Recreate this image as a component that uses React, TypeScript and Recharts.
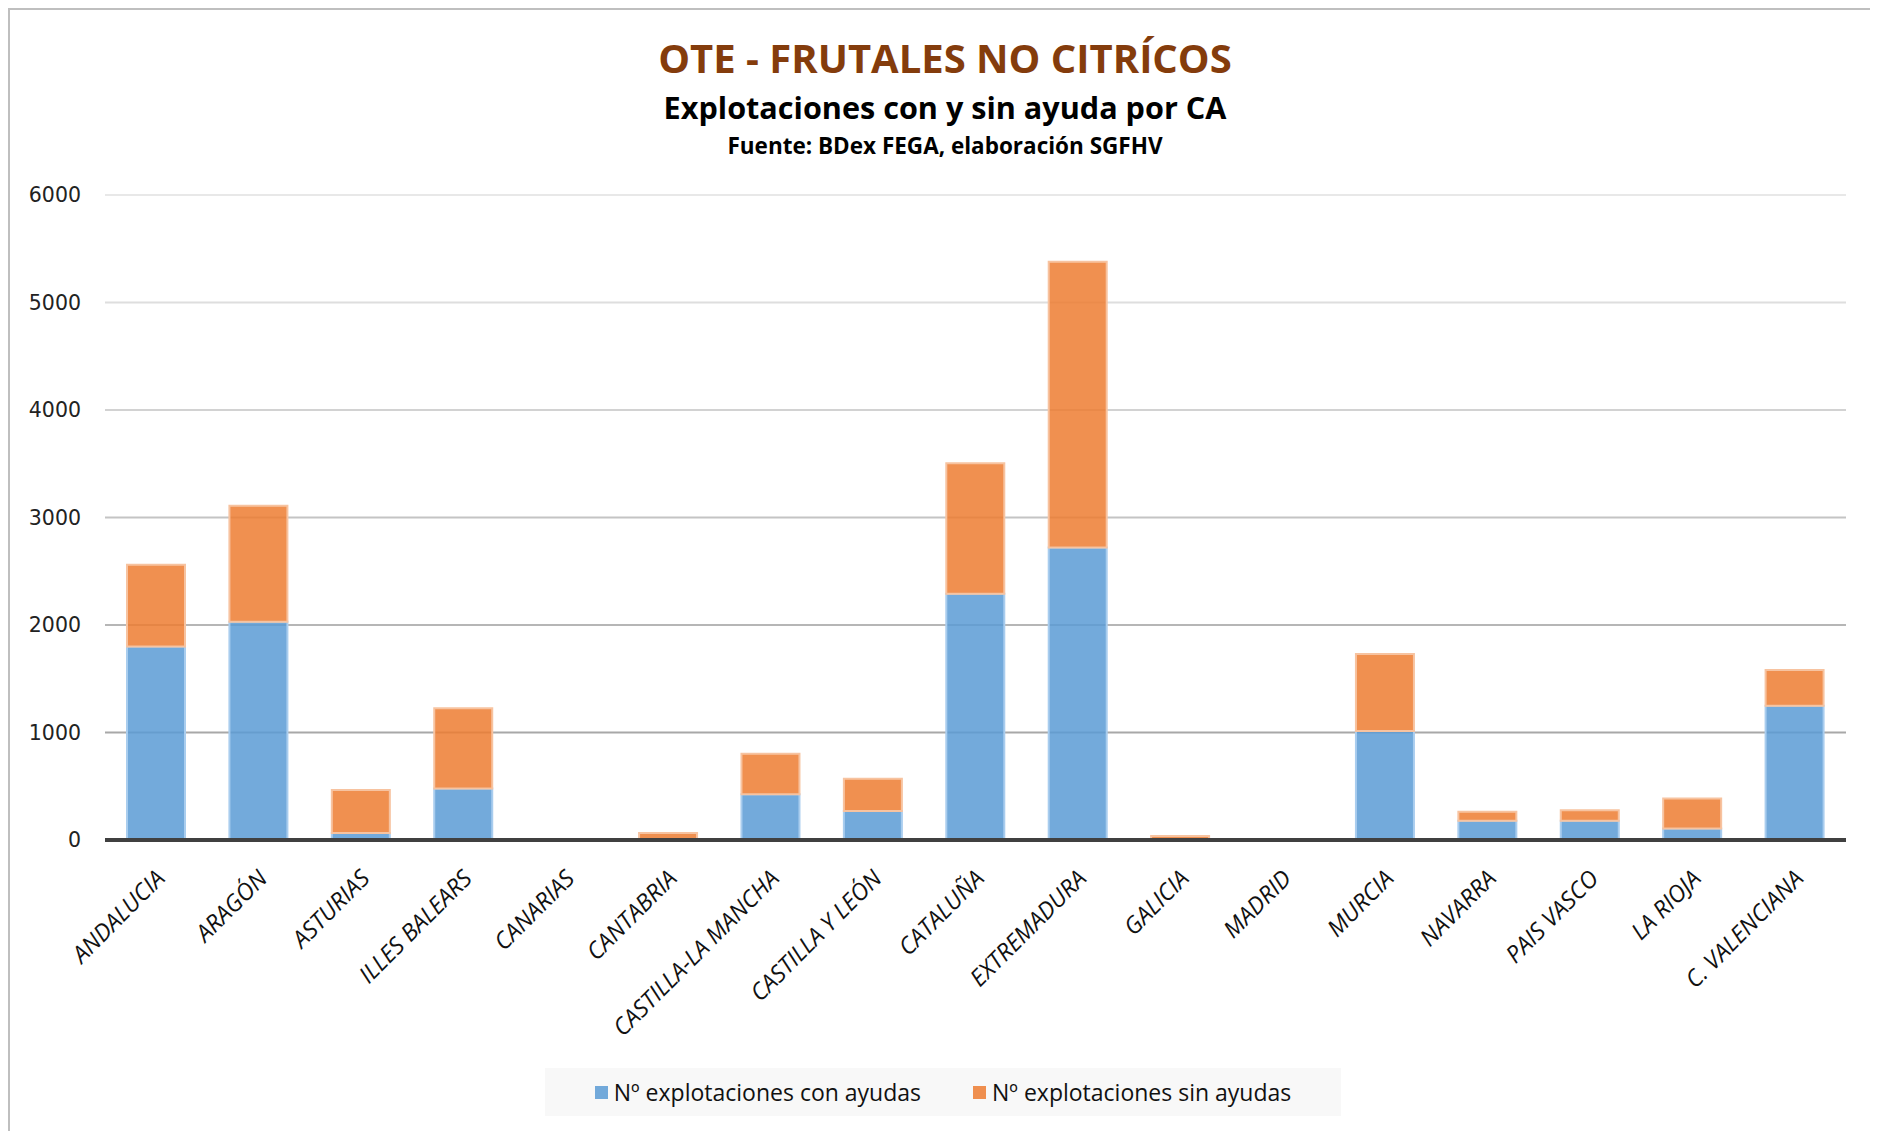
import {
  Bar,
  BarChart,
  CartesianGrid,
  Legend,
  XAxis,
  YAxis,
} from "recharts";

const categories = [
  "ANDALUCIA",
  "ARAGÓN",
  "ASTURIAS",
  "ILLES BALEARS",
  "CANARIAS",
  "CANTABRIA",
  "CASTILLA-LA MANCHA",
  "CASTILLA Y LEÓN",
  "CATALUÑA",
  "EXTREMADURA",
  "GALICIA",
  "MADRID",
  "MURCIA",
  "NAVARRA",
  "PAIS VASCO",
  "LA RIOJA",
  "C. VALENCIANA",
];

const conAyudas = [1800, 2030, 65, 480, 3, 5, 425, 270, 2290, 2720, 10, 2, 1015, 180, 180, 108, 1250];
const sinAyudas = [760, 1080, 400, 745, 4, 60, 378, 300, 1215, 2660, 28, 3, 715, 82, 97, 277, 332];

const yTicks = [0, 1000, 2000, 3000, 4000, 5000, 6000];

const seriesNames = ["Nº explotaciones con ayudas", "Nº explotaciones sin ayudas"];

const data = categories.map((ca, i) => ({
  ca,
  con: conAyudas[i],
  sin: sinAyudas[i],
}));

const BLUE = "#5B9BD5";
const ORANGE = "#ED7D31";
const FONT = "'Open Sans', sans-serif";

// grid gets darker towards the bottom, like the original
const gridGrays = ["#a8a8a8", "#a8a8a8", "#b6b6b6", "#c4c4c4", "#d2d2d2", "#dedede", "#e8e8e8"];

function GridLine(p: any) {
  const idx = Math.round((830 - p.y1) / 107.5);
  const stroke = gridGrays[Math.max(0, Math.min(gridGrays.length - 1, idx))];
  return <line x1={p.x1} y1={p.y1} x2={p.x2} y2={p.y2} stroke={stroke} strokeWidth={2} />;
}

function XTick({ x, y, payload }: any) {
  return (
    <g transform={`translate(${x + 10},${y + 32})`}>
      <text
        transform="rotate(-45)"
        textAnchor="end"
        fontFamily={FONT}
        fontStyle="italic"
        fontSize={23.5}
        fill="#111"
      >
        {payload.value}
      </text>
    </g>
  );
}

function LegendBox() {
  const item = (color: string, label: string) => (
    <div style={{ display: "flex", alignItems: "center" }}>
      <span
        style={{
          width: 13,
          height: 13,
          background: color,
          opacity: 0.85,
          marginRight: 6,
        }}
      />
      <span>{label}</span>
    </div>
  );
  return (
    <div
      style={{
        width: 796,
        height: 48,
        background: "#f8f8f8",
        display: "flex",
        alignItems: "center",
        justifyContent: "center",
        gap: 52,
        fontFamily: FONT,
        fontSize: 23,
        color: "#111",
      }}
    >
      {item(BLUE, seriesNames[0])}
      {item(ORANGE, seriesNames[1])}
    </div>
  );
}

const titleBase = {
  position: "absolute" as const,
  left: 10,
  right: 0,
  textAlign: "center" as const,
  fontFamily: FONT,
  fontWeight: 700,
};

export default function App() {
  const W = 1860;
  const H = 1121;
  return (
    <div
      style={{
        position: "relative",
        width: W,
        height: H,
        border: "2px solid #bfbfbf",
        background: "#fff",
      }}
    >
      <div style={{ ...titleBase, top: 20, fontSize: 40, color: "#843C0C" }}>
        OTE - FRUTALES NO CITRÍCOS
      </div>
      <div style={{ ...titleBase, top: 76, fontSize: 30.6, color: "#000" }}>
        Explotaciones con y sin ayuda por CA
      </div>
      <div style={{ ...titleBase, top: 120, fontSize: 22.5, color: "#000" }}>
        Fuente: BDex FEGA, elaboración SGFHV
      </div>
      <BarChart
        width={W}
        height={H}
        data={data}
        margin={{ top: 185, right: 24, bottom: H - 1106, left: 0 }}
        barSize={58}
        style={{ position: "absolute", top: 0, left: 0 }}
      >
        <CartesianGrid vertical={false} horizontal={(p: any) => <GridLine {...p} />} />
        <XAxis
          dataKey="ca"
          interval={0}
          height={228}
          tickLine={false}
          axisLine={{ stroke: "#404040", strokeWidth: 4 }}
          tick={<XTick />}
        />
        <YAxis
          width={95}
          domain={[0, 6000]}
          ticks={yTicks}
          axisLine={false}
          tickLine={false}
          tickSize={6}
          tickMargin={18}
          tick={{ fontFamily: "'DejaVu Sans', sans-serif", fontSize: 20.5, fill: "#222" }}
        />
        <Legend
          verticalAlign="bottom"
          height={48}
          content={<LegendBox />}
          wrapperStyle={{ left: 535, width: 796 }}
        />
        <Bar
          dataKey="con"
          name={seriesNames[0]}
          stackId="a"
          fill={BLUE}
          fillOpacity={0.85}
          stroke="#a9cdee"
          strokeWidth={2}
          isAnimationActive={false}
        />
        <Bar
          dataKey="sin"
          name={seriesNames[1]}
          stackId="a"
          fill={ORANGE}
          fillOpacity={0.85}
          stroke="#f7c3a0"
          strokeWidth={2}
          isAnimationActive={false}
        />
      </BarChart>
    </div>
  );
}
